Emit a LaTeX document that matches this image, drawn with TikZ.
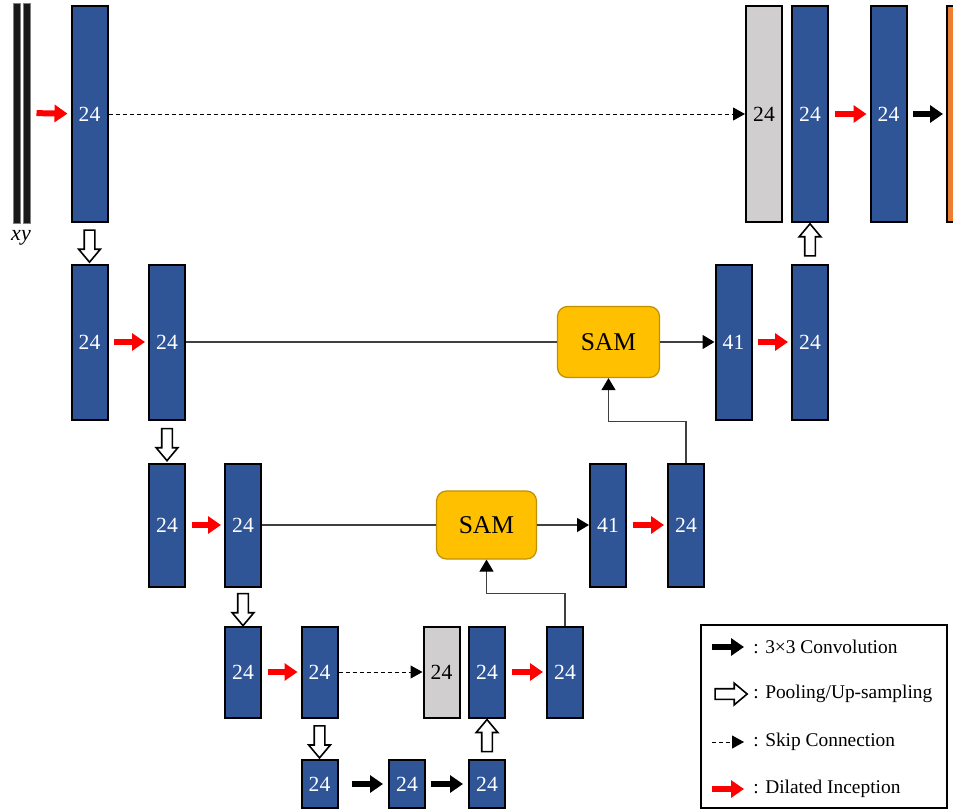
\documentclass[tikz,border=0pt]{standalone}
\usepackage{fontspec}
\setmainfont{Liberation Serif}
\usetikzlibrary{shapes}
\usetikzlibrary{arrows.meta}
\usetikzlibrary{calc}
\definecolor{ublue}{HTML}{2F5597}
\definecolor{ugrey}{HTML}{D0CECE}
\definecolor{uorange}{HTML}{ED7D31}
\definecolor{usam}{HTML}{FFC000}
\definecolor{usamline}{HTML}{BF9000}
\definecolor{udark}{HTML}{404040}
\tikzset{
	block/.style = {
		draw=black,
		line width=1pt,
		inner sep=0pt,
		minimum width=18pt,
		font=\fontsize{10.8}{12}\selectfont
	},
	node_blue/.style = {
		block,
		fill=ublue,
		text=white
	},
	node_grey/.style = {
		block,
		fill=ugrey,
		text=black
	},
	node_out/.style = {
		block,
		fill=uorange
	},
	node_bar/.style = {
		draw=gray,
		line width=0.4pt,
		fill=black!90,
		inner sep=0pt,
		minimum width=3.6pt,
		minimum height=110pt
	},
	node_sam/.style = {
		draw=usamline,
		fill=usam,
		line width=0.6pt,
		rounded corners=5pt,
		font=\fontsize{12.8}{14}\selectfont
	},
	row1/.style = {minimum height=107.5pt},
	row2/.style = {minimum height=77.5pt},
	row3/.style = {minimum height=61.5pt},
	row4/.style = {minimum height=45.5pt},
	row5/.style = {minimum height=24pt},
	node_pool/.style = {
		single arrow,
		draw=black,
		fill=white,
		line width=0.8pt,
		inner sep=2.25pt,
		single arrow head extend=2.75pt,
		single arrow tip angle=80,
		minimum height=16pt
	},
	pool_down/.style = {node_pool, shape border rotate=270},
	pool_up/.style = {node_pool, shape border rotate=90},
	arrow_red/.style = {
		-{Triangle[length=6.5pt,width=8.5pt]},
		red,
		line width=3pt,
		shorten <=2.75pt,
		shorten >=1.5pt
	},
	arrow_conv/.style = {
		arrow_red,
		black
	},
	arrow_skip/.style = {
		-{Triangle[length=6pt,width=6.5pt]},
		line width=0.5pt,
		dash pattern=on 2pt off 1.5pt
	},
	arrow_sam/.style = {
		-{Triangle[length=6pt,width=7pt,color=black,fill=black]},
		line width=0.6pt,
		udark
	},
	line_sam/.style = {
		line width=0.6pt,
		udark
	},
	legend_text/.style = {
		anchor=west,
		inner sep=0pt,
		font=\fontsize{9.7}{11}\selectfont
	},
}

\begin{document}
\begin{tikzpicture}[x=0.5pt, y=0.5pt]
\useasboundingbox (0,0) rectangle (953,811);
\clip (0,0) rectangle (953,811);
% input and output
\node [node_bar] (xa) at (16.5,698) {};
\node [node_bar] (xb) at (27,698) {};
\node [font=\fontsize{11}{12}\selectfont\itshape] (xlabel) at (21,573) {xy};
\node [node_out, row1] (out) at (965,697) {};
\node [font=\fontsize{11}{12}\selectfont\itshape] (outlabel) at (963,573) {w};
% level 1
\node [node_blue, row1] (a1) at (89.5,697) {24};
\node [node_grey, row1] (g1) at (764,697) {24};
\node [node_blue, row1] (u1) at (810,697) {24};
\node [node_blue, row1] (v1) at (888.5,697) {24};
% level 2
\node [node_blue, row2] (a2) at (89.5,469) {24};
\node [node_blue, row2] (b2) at (167,469) {24};
\node [node_sam, minimum width=51pt, minimum height=35.5pt] (sam2) at (608.5,469) {SAM};
\node [node_blue, row2] (c2) at (733.5,469) {41};
\node [node_blue, row2] (d2) at (810,469) {24};
% level 3
\node [node_blue, row3] (a3) at (167,286) {24};
\node [node_blue, row3] (b3) at (243,286) {24};
\node [node_sam, minimum width=50pt, minimum height=34pt] (sam3) at (486.5,286) {SAM};
\node [node_blue, row3] (c3) at (608,286) {41};
\node [node_blue, row3] (d3) at (686,286) {24};
% level 4
\node [node_blue, row4] (a4) at (243,139) {24};
\node [node_blue, row4] (b4) at (319.5,139) {24};
\node [node_grey, row4] (g4) at (441.5,139) {24};
\node [node_blue, row4] (u4) at (487,139) {24};
\node [node_blue, row4] (d4) at (565,139) {24};
% bottom
\node [node_blue, row5] (a5) at (319.5,27) {24};
\node [node_blue, row5] (b5) at (407,27) {24};
\node [node_blue, row5] (c5) at (487,27) {24};

% pooling / up-sampling
\node [pool_down] (p1) at ($(a1.south)!0.5!(a2.north)$) {};
\node [pool_down] (p2) at ($(b2.south)!0.5!(a3.north)$) {};
\node [pool_down] (p3) at ($(b3.south)!0.5!(a4.north)$) {};
\node [pool_down] (p4) at ($(b4.south)!0.5!(a5.north)$) {};
\node [pool_up] (q1) at ($(c5.north)!0.5!(u4.south)$) {};
\node [pool_up] (q2) at ($(d2.north)!0.5!(u1.south)$) {};

% connections
\draw [arrow_red] (xb) -- (a1);
\draw [arrow_skip] (a1) -- (g1);
\draw [arrow_red] (u1) -- (v1);
\draw [arrow_conv] (v1) -- (out);
\draw [arrow_red] (a2) -- (b2);
\draw [line_sam] (b2) -- (sam2);
\draw [arrow_sam] (sam2) -- (c2);
\draw [arrow_red] (c2) -- (d2);
\draw [arrow_sam] (d3.north) -- ++(0,41) -| (sam2.south);
\draw [arrow_red] (a3) -- (b3);
\draw [line_sam] (b3) -- (sam3);
\draw [arrow_sam] (sam3) -- (c3);
\draw [arrow_red] (c3) -- (d3);
\draw [arrow_sam] (d4.north) -- ++(0,32) -| (sam3.south);
\draw [arrow_red] (a4) -- (b4);
\draw [arrow_skip] (b4) -- (g4);
\draw [arrow_red] (u4) -- (d4);
\draw [arrow_conv, shorten <=6.5pt, shorten >=2.5pt] (a5) -- (b5);
\draw [arrow_conv, shorten <=2.5pt, shorten >=2.5pt] (b5) -- (c5);

% legend
\node [draw=black, line width=1pt, minimum width=123pt, minimum height=91.5pt] (legend) at (823.5,95) {};
\coordinate (l1a) at (712,164);
\coordinate (l1b) at (744,164);
\draw [arrow_conv, shorten <=0pt, shorten >=0pt] (l1a) -- (l1b);
\node [legend_text] (t1) at (753,164) {: 3×3 Convolution};
\node [node_pool] (l2) at (728,117) {};
\node [legend_text] (t2) at (753,117) {: Pooling/Up-sampling};
\coordinate (l3a) at (712,69);
\coordinate (l3b) at (744,69);
\draw [arrow_skip] (l3a) -- (l3b);
\node [legend_text] (t3) at (753,69) {: Skip Connection};
\coordinate (l4a) at (712,22);
\coordinate (l4b) at (744,22);
\draw [arrow_red, shorten <=0pt, shorten >=0pt] (l4a) -- (l4b);
\node [legend_text] (t4) at (753,22) {: Dilated Inception};
\end{tikzpicture}
\end{document}
